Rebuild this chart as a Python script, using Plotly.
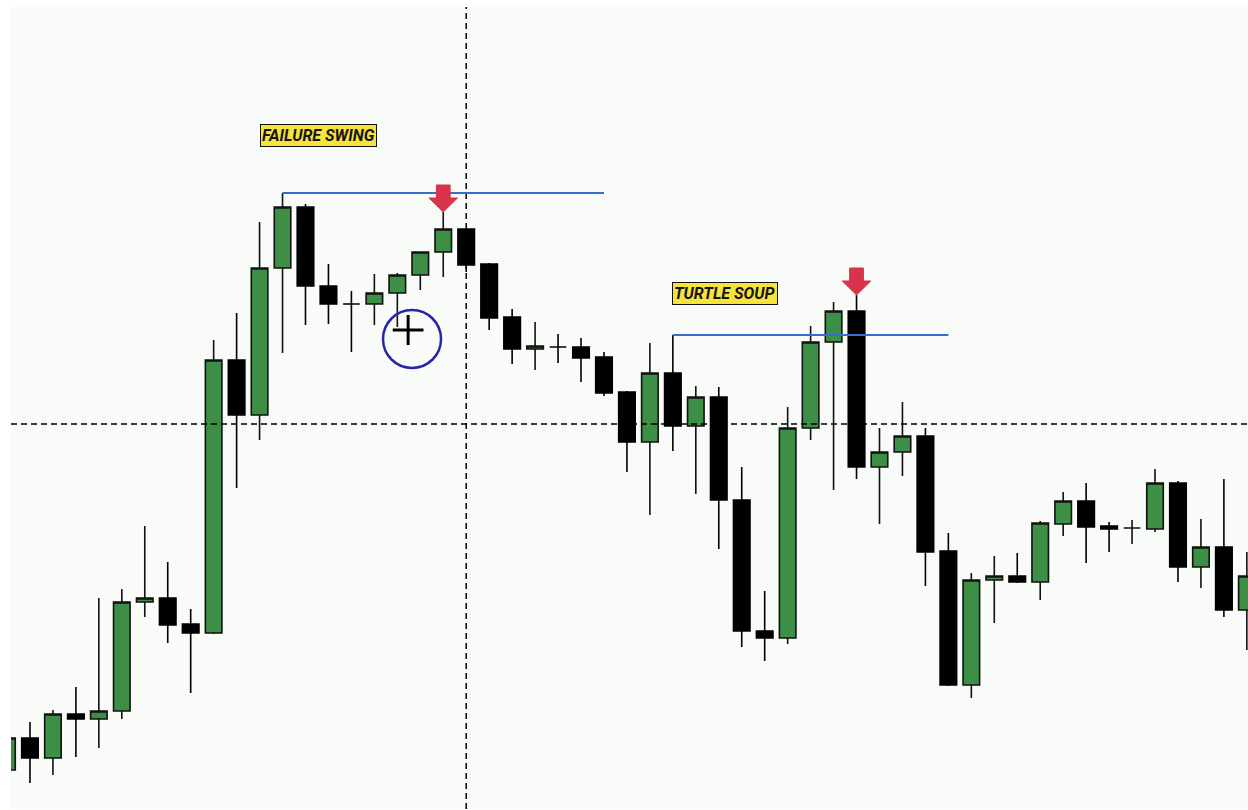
import plotly.graph_objects as go

# ---- data (price levels; price = 810 - pixel row) ----
idx = list(range(55))
highs_px = [733, 722, 710, 687, 598, 589, 526, 562, 609, 340,
            313, 222, 193, 204, 264, 291, 274, 273, 252, 212,
            229, 263, 309, 322, 334, 338, 352, 391, 343, 335,
            386, 387, 467, 591, 407, 326, 302, 295, 428, 402,
            428, 533, 573, 556, 553, 521, 492, 483, 522, 520,
            469, 481, 519, 479, 552]
opens_px = [770, 738, 758, 714, 719, 711, 602, 598, 624, 633,
            360, 415, 268, 207, 286, 304, 304, 293, 275, 252,
            229, 264, 317, 349, 347, 347, 357, 392, 442, 373,
            426, 397, 500, 631, 638, 428, 342, 311, 467, 452,
            436, 551, 685, 580, 576, 582, 524, 501, 526, 528,
            529, 483, 567, 547, 610]
closes_px = [738, 758, 714, 719, 711, 602, 598, 625, 633, 360,
             415, 268, 207, 286, 304, 304, 293, 275, 252, 229,
             265, 318, 349, 346, 347, 358, 393, 442, 373, 426,
             397, 500, 631, 638, 428, 342, 311, 467, 452, 436,
             552, 685, 580, 576, 582, 523, 501, 527, 529, 528,
             483, 567, 547, 610, 576]
lows_px = [778, 783, 775, 757, 748, 719, 617, 643, 693, 634,
           488, 440, 353, 325, 324, 352, 325, 327, 290, 277,
           272, 330, 364, 370, 363, 382, 396, 472, 515, 451,
           494, 549, 647, 661, 644, 440, 490, 479, 524, 476,
           586, 686, 698, 623, 583, 600, 536, 563, 552, 544,
           532, 582, 588, 617, 650]

BASE = 810
high = [BASE - v for v in highs_px]
open_ = [BASE - v for v in opens_px]
close = [BASE - v for v in closes_px]
low = [BASE - v for v in lows_px]

crosshair_x = 20          # candle index under the vertical crosshair
crosshair_price = 386     # horizontal crosshair level
swing_lines = [(12, 26), (29, 41)]   # (start candle, end candle) at start candle high
arrow_candles = [19, 37]
labels = [("FAILURE SWING", 13.55, 675), ("TURTLE SOUP", 31.27, 517)]

GREEN = "#3c8f45"
BLUE = "#3a6ccc"
RED = "#d8334a"

fig = go.Figure()
fig.add_trace(go.Candlestick(
    x=idx, open=open_, high=high, low=low, close=close,
    increasing=dict(fillcolor=GREEN, line=dict(color="#111111", width=1.6)),
    decreasing=dict(fillcolor="#000000", line=dict(color="#000000", width=1.6)),
    whiskerwidth=0, hoverinfo="skip", showlegend=False,
))

shapes = []
# crosshair
shapes.append(dict(type="line", xref="x", yref="paper", x0=crosshair_x, x1=crosshair_x,
                   y0=0, y1=1, line=dict(color="#000000", width=1.5, dash="6px,4px")))
shapes.append(dict(type="line", xref="paper", yref="y", x0=0, x1=1,
                   y0=crosshair_price, y1=crosshair_price,
                   line=dict(color="#000000", width=1.5, dash="6px,4px")))
# swing high lines
for s, e in swing_lines:
    shapes.append(dict(type="line", xref="x", yref="y", x0=s, x1=e, y0=high[s], y1=high[s],
                       line=dict(color=BLUE, width=2.2)))
# red arrows above the failing highs
for k in arrow_candles:
    h = high[k]
    hw, sw = 0.62, 0.30
    path = (f"M {k} {h} L {k-hw} {h+14} L {k-sw} {h+14} L {k-sw} {h+27} "
            f"L {k+sw} {h+27} L {k+sw} {h+14} L {k+hw} {h+14} Z")
    shapes.append(dict(type="path", xref="x", yref="y", path=path,
                       fillcolor=RED, line=dict(color=RED, width=1)))
# circle with cursor
cx, cy, rx, ry = 17.64, 471, 1.263, 29
shapes.append(dict(type="circle", xref="x", yref="y", x0=cx-rx, x1=cx+rx, y0=cy-ry, y1=cy+ry,
                   line=dict(color="#2626a6", width=2.5)))
px_x = 17.47
px_y = 480
shapes.append(dict(type="line", xref="x", yref="y", x0=px_x-0.67, x1=px_x+0.67, y0=px_y, y1=px_y,
                   line=dict(color="#000000", width=3)))
shapes.append(dict(type="line", xref="x", yref="y", x0=px_x, x1=px_x, y0=px_y-15, y1=px_y+15,
                   line=dict(color="#000000", width=3)))

annotations = []
for text, ax_, ay_ in labels:
    annotations.append(dict(
        x=ax_, y=ay_, xref="x", yref="y", text=text, showarrow=False,
        font=dict(family="Roboto", size=16, color="#151515", weight="bold", style="italic"),
        bgcolor="#f6e33c", bordercolor="#111111", borderwidth=1, borderpad=1,
    ))

fig.update_layout(
    width=1248, height=810,
    margin=dict(l=11, r=0, t=7, b=1),
    paper_bgcolor="#ffffff", plot_bgcolor="#f8fbf8",
    xaxis=dict(range=[0.174, 54.05], visible=False, rangeslider=dict(visible=False), fixedrange=True),
    yaxis=dict(range=[1, 803], visible=False, fixedrange=True),
    boxgap=0.28, boxgroupgap=0,
    shapes=shapes, annotations=annotations,
    showlegend=False,
)

fig.write_html("out.html", config={"displayModeBar": False},
               post_script="document.body.style.margin='0';")
